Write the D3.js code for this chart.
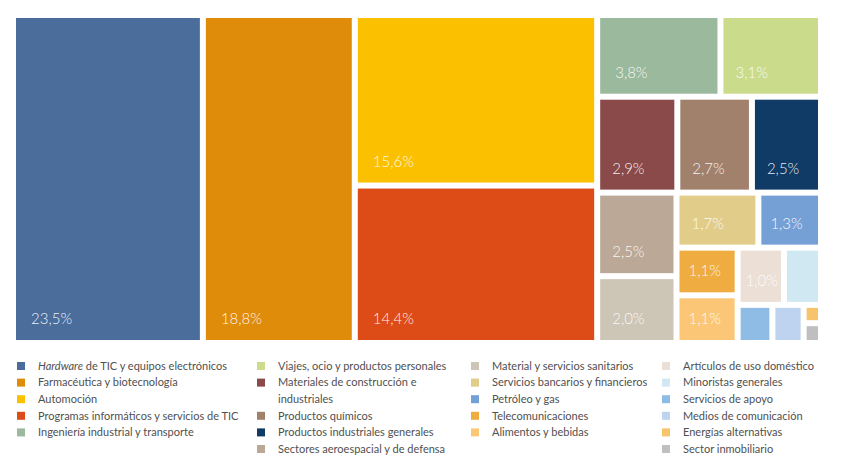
<!DOCTYPE html>
<html>
<head>
<meta charset="utf-8">
<script src="https://cdn.jsdelivr.net/npm/d3@7"></script>
<style>
  body { margin: 0; background: #fff; }
  svg { display: block; font-family: Lato, "Open Sans", sans-serif; }
</style>
</head>
<body>
<div id="chart"></div>
<script>
// sector names, share of total (%) and colour, in drawing order
const sectors = [
  "Hardware de TIC y equipos electrónicos",
  "Farmacéutica y biotecnología",
  "Automoción",
  "Programas informáticos y servicios de TIC",
  "Ingeniería industrial y transporte",
  "Viajes, ocio y productos personales",
  "Materiales de construcción e industriales",
  "Productos químicos",
  "Productos industriales generales",
  "Sectores aeroespacial y de defensa",
  "Material y servicios sanitarios",
  "Servicios bancarios y financieros",
  "Petróleo y gas",
  "Telecomunicaciones",
  "Alimentos y bebidas",
  "Artículos de uso doméstico",
  "Minoristas generales",
  "Servicios de apoyo",
  "Medios de comunicación",
  "Energías alternativas",
  "Sector inmobiliario"
];
const shares = [23.5, 18.8, 15.6, 14.4, 3.8, 3.1, 2.9, 2.7, 2.5, 2.5, 2.0, 1.7, 1.3, 1.1, 1.1, 1.0, 0.8, 0.5, 0.45, 0.12, 0.13];
const colors = [
  "#4a6d9c", "#e08c0b", "#fbc100", "#dd4b16", "#9bb99c", "#cadb8b", "#8a4a4a",
  "#a1806c", "#0f3b66", "#bba896", "#cdc5b5", "#e1cc89", "#74a0d6", "#eeac41",
  "#fbc777", "#ebdfd6", "#cfe8f1", "#8ebce4", "#bed3ef", "#f7c46c", "#bfbfbf"
];
// number of legend entries in each column
const legendColumns = [5, 5, 5, 6];

const width = 845, height = 475;
const margin = {top: 18, left: 16, right: 27};
const mapW = width - margin.left - margin.right, mapH = 322;

const svg = d3.select("#chart").append("svg")
  .attr("width", width)
  .attr("height", height);

const data = sectors.map((name, i) => ({name: name, value: shares[i], color: colors[i]}));

// squarified tiling with a slightly flatter target ratio than d3's default
const RATIO = 0.91;
function tile(parent, x0, y0, x1, y1) {
  const nodes = parent.children;
  let value = parent.value, i0 = 0;
  while (i0 < nodes.length) {
    const dx = x1 - x0, dy = y1 - y0;
    let i1 = i0, sum = nodes[i1++].value, minV = sum, maxV = sum;
    const alpha = Math.max(dy / dx, dx / dy) / (value * RATIO);
    let beta = sum * sum * alpha;
    let minRatio = Math.max(maxV / beta, beta / minV);
    for (; i1 < nodes.length; ++i1) {
      const v = nodes[i1].value, s = sum + v;
      const mn = Math.min(minV, v), mx = Math.max(maxV, v);
      beta = s * s * alpha;
      const r = Math.max(mx / beta, beta / mn);
      if (r > minRatio) break;
      sum = s; minV = mn; maxV = mx; minRatio = r;
    }
    const row = {value: sum, children: nodes.slice(i0, i1)};
    if (dx < dy) {
      const yk = y0 + dy * sum / value;
      d3.treemapDice(row, x0, y0, x1, yk);
      y0 = yk;
    } else {
      const xk = x0 + dx * sum / value;
      d3.treemapSlice(row, x0, y0, xk, y1);
      x0 = xk;
    }
    value -= sum;
    i0 = i1;
  }
}

const root = d3.hierarchy({children: data}).sum(d => d.value || 0);
d3.treemap()
  .size([mapW, mapH])
  .tile(tile)
  .paddingInner(6)(root);

const fmt = d3.formatLocale({decimal: ",", thousands: ".", grouping: [3], currency: ["", "€"]}).format(".1f");

const cell = svg.append("g")
  .attr("transform", `translate(${margin.left},${margin.top})`)
  .selectAll("g")
  .data(root.leaves())
  .join("g")
  .attr("transform", d => `translate(${d.x0},${d.y0})`);

cell.append("rect")
  .attr("width", d => d.x1 - d.x0)
  .attr("height", d => d.y1 - d.y0)
  .attr("fill", d => d.data.color);

// label inset shrinks for the narrow cells
const inset = w => w > 100 ? 15 : w > 62 ? 12 : w > 50 ? 9 : 5;

cell.filter(d => d.data.value >= 1)
  .append("text")
  .attr("x", d => inset(d.x1 - d.x0))
  .attr("y", d => d.y1 - d.y0 - 16)
  .attr("fill", "#fff")
  .attr("fill-opacity", 0.92)
  .attr("font-size", 15)
  .attr("font-weight", 300)
  .text(d => fmt(d.data.value) + "%");

// ----------------
// legend
// ----------------
const colX = [17, 257, 471, 662];
const colWrap = [230, 185, 180, 170];
const legendTop = 366, rowH = 16.6;

const legend = svg.append("g")
  .attr("font-size", 11)
  .attr("fill", "#505050");

let idx = 0;
legendColumns.forEach((count, c) => {
  let line = 0;
  for (let k = 0; k < count; k++, idx++) {
    const d = data[idx];
    const cy = legendTop + line * rowH;
    legend.append("rect")
      .attr("x", colX[c])
      .attr("y", cy - 4)
      .attr("width", 8)
      .attr("height", 8)
      .attr("fill", d.color);
    const t = legend.append("text")
      .attr("x", colX[c] + 21)
      .attr("y", cy)
      .attr("dy", "0.35em");
    if (d.name.startsWith("Hardware")) {
      t.append("tspan").attr("font-style", "italic").text("Hardware");
      t.append("tspan").text(d.name.slice(8));
      line += 1;
    } else {
      // wrap long names onto a second line
      const words = d.name.split(" ");
      let current = [], tspan = t.append("tspan").attr("x", colX[c] + 21), lines = 1;
      words.forEach(w => {
        current.push(w);
        tspan.text(current.join(" "));
        if (tspan.node().getComputedTextLength() > colWrap[c] && current.length > 1) {
          current.pop();
          tspan.text(current.join(" "));
          current = [w];
          tspan = t.append("tspan").attr("x", colX[c] + 21).attr("dy", rowH).text(w);
          lines++;
        }
      });
      line += lines;
    }
  }
});
</script>
</body>
</html>
